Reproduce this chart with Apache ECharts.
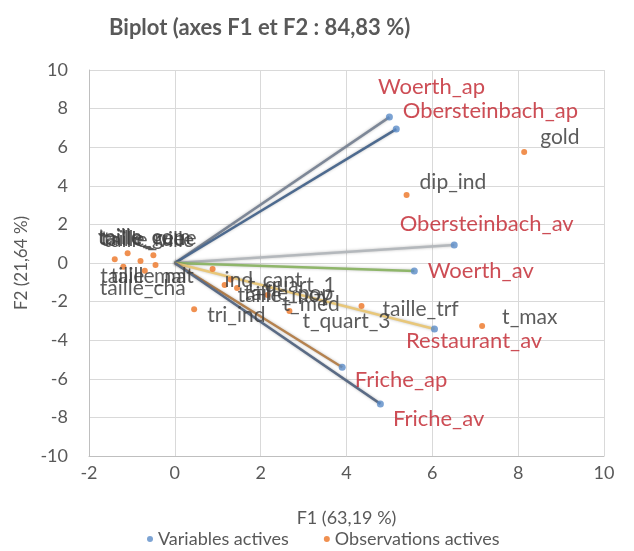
<!DOCTYPE html>
<html>
<head>
<meta charset="utf-8">
<script src="https://cdn.jsdelivr.net/npm/echarts@6/dist/echarts.min.js"></script>
<style>
  html, body { margin: 0; padding: 0; background: #ffffff; }
  #chart { width: 634px; height: 551px; }
</style>
</head>
<body>
<div id="chart"></div>
<script>
// Active variables (vectors from the origin)
const varNames = ['Woerth_ap', 'Obersteinbach_ap', 'Obersteinbach_av', 'Woerth_av', 'Restaurant_av', 'Friche_ap', 'Friche_av'];
const varF1 = [5.00, 5.16, 6.51, 5.58, 6.05, 3.90, 4.79];
const varF2 = [7.56, 6.94, 0.93, -0.41, -3.42, -5.40, -7.30];

// Active observations
const obsNames = ['gold', 'dip_ind', 't_max', 'taille_trf', 't_quart_3', 't_med', 't_quart_1', 'taille_moy', 'taille_pop', 'ind_cant', 'tri_ind',
  'taille_com', 'taille_rue', 'taille_ville', 'taille_geue', 'taille_mal', 'taille_cha', 'taille_nat'];
const obsF1 = [8.14, 5.40, 7.16, 4.35, 2.67, 2.16, 1.30, 1.16, 1.45, 0.88, 0.45,
  -1.40, -1.10, -0.80, -0.50, -1.20, -0.70, -0.45];
const obsF2 = [5.75, 3.52, -3.26, -2.23, -2.49, -1.66, -0.85, -1.14, -1.30, -0.31, -2.40,
  0.20, 0.50, 0.10, 0.40, -0.20, -0.40, -0.10];

// Axis settings
const axisX = { min: -2, max: 10, step: 2, title: 'F1 (63,19 %)' };
const axisY = { min: -10, max: 10, step: 2, title: 'F2 (21,64 %)' };
const chartTitle = 'Biplot (axes F1 et F2 : 84,83 %)';

// Styling
const vecColors = ['#7d8797', '#4d6a8f', '#b4b8bc', '#8fb66a', '#e8c77a', '#b5824f', '#5a6b85'];
const varLabelOffset = {
  'Woerth_ap': [-15, -30], 'Obersteinbach_ap': [3, -18], 'Obersteinbach_av': [-58, -21],
  'Woerth_av': [10, 0], 'Restaurant_av': [-32, 12], 'Friche_ap': [9, 13], 'Friche_av': [9, 15]
};
const obsLabelOffset = {
  'gold': [13, -15], 'dip_ind': [10, -13], 't_max': [17, -9], 'taille_trf': [18, 3],
  't_quart_3': [10, 10], 't_med': [12, 9], 't_quart_1': [14, 6], 'taille_moy': [10, 10],
  'taille_pop': [4, 5], 'ind_cant': [9, 11], 'tri_ind': [10, 6],
  'taille_com': [-20, -22], 'taille_rue': [-30, -14], 'taille_ville': [-40, -21],
  'taille_geue': [-58, -17], 'taille_mal': [-26, 9], 'taille_cha': [-48, 18], 'taille_nat': [-48, 11]
};

const FONT = 'Lato, "Open Sans", sans-serif';

const varPoints = varNames.map((n, i) => ({ name: n, value: [varF1[i], varF2[i]] }));
const obsPoints = obsNames.map((n, i) => ({ name: n, value: [obsF1[i], obsF2[i]] }));
const vectors = varNames.map((n, i) => ({
  coords: [[0, 0], [varF1[i], varF2[i]]],
  lineStyle: { color: vecColors[i] }
}));

// Shift each label away from its point
function shiftLabel(names, offsets) {
  return function (params) {
    const off = offsets[names[params.dataIndex]] || [8, 0];
    return { dx: off[0], dy: off[1], hideOverlap: false };
  };
}

const chart = echarts.init(document.getElementById('chart'), null, { renderer: 'canvas' });
chart.setOption({
  animation: false,
  backgroundColor: '#ffffff',
  title: {
    text: chartTitle,
    left: 104,
    top: 12,
    textStyle: { fontFamily: FONT, fontSize: 22, fontWeight: 'bold', color: '#595959' }
  },
  grid: { left: 89, right: 30, top: 70, bottom: 95 },
  xAxis: {
    type: 'value', min: axisX.min, max: axisX.max, interval: axisX.step,
    name: axisX.title, nameLocation: 'middle', nameGap: 53,
    nameTextStyle: { fontFamily: FONT, fontSize: 18, color: '#595959' },
    axisLine: { show: true, onZero: false, lineStyle: { color: '#bfbfbf' } },
    axisTick: { show: false },
    axisLabel: { fontFamily: FONT, fontSize: 18, color: '#595959', margin: 8 },
    splitLine: { show: true, lineStyle: { color: '#d9d9d9' } }
  },
  yAxis: {
    type: 'value', min: axisY.min, max: axisY.max, interval: axisY.step,
    name: axisY.title, nameLocation: 'middle', nameGap: 55,
    nameTextStyle: { fontFamily: FONT, fontSize: 17, color: '#595959' },
    axisLine: { show: true, onZero: false, lineStyle: { color: '#bfbfbf' } },
    axisTick: { show: false },
    axisLabel: { fontFamily: FONT, fontSize: 18, color: '#595959', margin: 21 },
    splitLine: { show: true, lineStyle: { color: '#d9d9d9' } }
  },
  legend: {
    bottom: -2, left: 142,
    icon: 'circle', itemWidth: 6, itemHeight: 6, itemGap: 35,
    textStyle: { fontFamily: FONT, fontSize: 18, color: '#595959' },
    data: ['Variables actives', 'Observations actives']
  },
  series: [
    {
      type: 'lines',
      coordinateSystem: 'cartesian2d',
      silent: true,
      z: 2,
      lineStyle: { width: 2.5, opacity: 1, shadowBlur: 3, shadowColor: 'rgba(0,0,0,0.25)' },
      data: vectors
    },
    {
      name: 'Observations actives',
      type: 'scatter',
      z: 3,
      symbolSize: 6,
      itemStyle: { color: '#ed7d31', opacity: 0.85 },
      label: {
        show: true, position: 'right', distance: 0,
        formatter: p => p.name,
        fontFamily: FONT, fontSize: 21, color: '#404040'
      },
      labelLayout: shiftLabel(obsNames, obsLabelOffset),
      data: obsPoints
    },
    {
      name: 'Variables actives',
      type: 'scatter',
      z: 4,
      symbolSize: 7,
      itemStyle: { color: '#5b8cc8' },
      label: {
        show: true, position: 'right', distance: 0,
        formatter: p => p.name,
        fontFamily: FONT, fontSize: 22, color: '#c0202a'
      },
      labelLayout: shiftLabel(varNames, varLabelOffset),
      data: varPoints
    }
  ]
});
</script>
</body>
</html>
